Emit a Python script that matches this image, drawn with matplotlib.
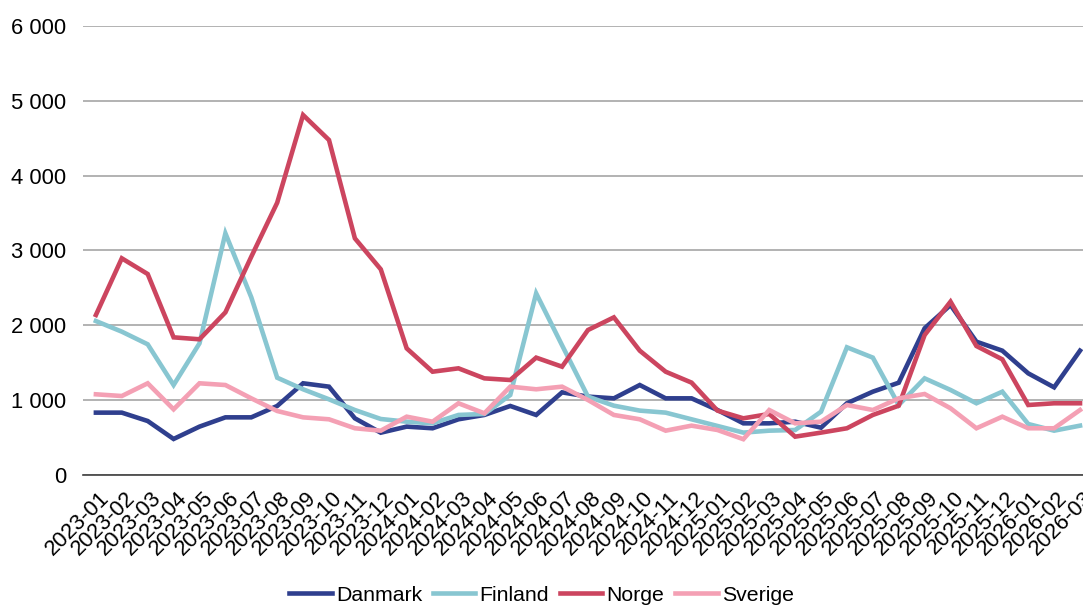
import matplotlib.pyplot as plt
import matplotlib.transforms as mtransforms
import numpy as np

plt.rcParams['font.family'] = ['Liberation Sans', 'DejaVu Sans']

# Månader 2023-01 .. 2026-03
maneder = [f"{y}-{m:02d}" for y in (2023, 2024, 2025) for m in range(1, 13)] + ["2026-01", "2026-02", "2026-03"]

danmark = [833, 833, 721, 481, 646, 770, 770, 922, 1225, 1180,
           757, 565, 646, 624, 744, 802, 922, 802, 1104, 1047,
           1024, 1202, 1024, 1024, 868, 690, 690, 712, 632, 958,
           1113, 1233, 1960, 2271, 1781, 1661, 1358, 1171, 1661]
finland = [2057, 1915, 1746, 1202, 1759, 3229, 2374, 1300, 1145, 1011,
           868, 748, 712, 690, 802, 815, 1069, 2427, 1733, 1047,
           926, 860, 833, 744, 655, 566, 592, 601, 846, 1706,
           1568, 935, 1291, 1136, 958, 1113, 681, 592, 659]
norge = [2138, 2895, 2685, 1839, 1813, 2173, 2917, 3638, 4810, 4476,
         3162, 2748, 1692, 1380, 1425, 1291, 1269, 1568, 1447, 1937,
         2106, 1661, 1380, 1234, 860, 757, 815, 512, 566, 624,
         802, 926, 1870, 2316, 1723, 1545, 935, 958, 958]
sverige = [1078, 1055, 1225, 877, 1225, 1202, 1024, 855, 770, 744,
           624, 592, 779, 712, 958, 824, 1180, 1145, 1180, 1002,
           802, 744, 592, 659, 601, 478, 868, 690, 712, 935,
           868, 1024, 1082, 891, 624, 779, 624, 624, 868]

serier = [("Danmark", danmark, "#2f3f8e"),
          ("Finland", finland, "#88c6d1"),
          ("Norge", norge, "#cc455f"),
          ("Sverige", sverige, "#f4a0b4")]

fig = plt.figure(figsize=(10.83, 6.08), dpi=100)
ax = fig.add_axes([0.0766, 0.2188, 0.9326, 0.7385])

x = np.arange(len(maneder))
for namn, verdier, farge in serier:
    ax.plot(x, verdier, color=farge, linewidth=3.3, label=namn, solid_joinstyle='miter')

ax.set_xlim(-0.5, len(maneder) - 0.5)
ax.set_ylim(0, 6000)
ax.set_yticks(np.arange(0, 6001, 1000))
ax.set_yticklabels([f"{v:,.0f}".replace(",", " ") for v in np.arange(0, 6001, 1000)])
ax.set_xticks(x)
ax.set_xticklabels(maneder, rotation=45, ha='right', rotation_mode='anchor')

ax.grid(axis='y', color='#a6a6a6', linewidth=1.2)
ax.set_axisbelow(True)
for s in ['top', 'right', 'left']:
    ax.spines[s].set_visible(False)
ax.spines['bottom'].set_color('#404040')
ax.spines['bottom'].set_linewidth(1.2)
ax.tick_params(axis='both', length=0, labelsize=15.8, colors='black')
ax.tick_params(axis='y', pad=12)
ax.tick_params(axis='x', pad=9)

# flytt x-etikettene litt til høyre
forskyv = mtransforms.ScaledTranslation(3 / 100, 0, fig.dpi_scale_trans)
for lbl in ax.get_xticklabels():
    lbl.set_transform(lbl.get_transform() + forskyv)

fig.legend(loc='center', bbox_to_anchor=(0.5, 0.021), ncol=4, frameon=False,
           fontsize=15.3, handlelength=2.0, handletextpad=0.2, columnspacing=0.5)

plt.savefig("out.png", dpi=100)
